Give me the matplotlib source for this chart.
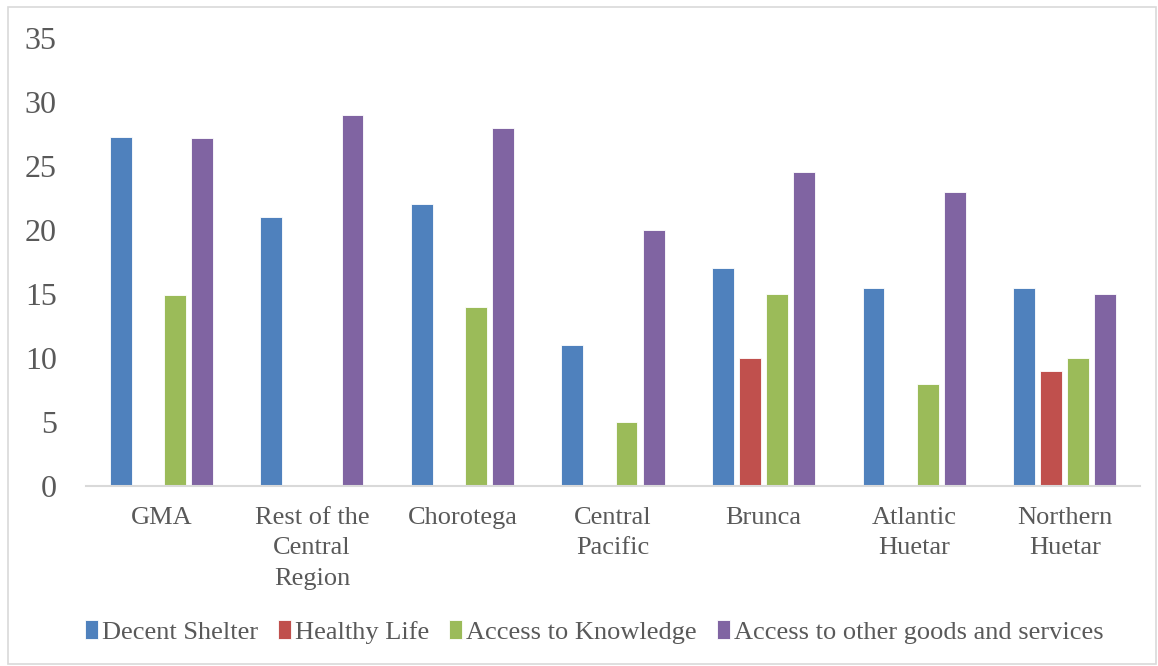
import matplotlib
matplotlib.use("Agg")
import matplotlib.pyplot as plt
from matplotlib.patches import Rectangle
import numpy as np

categories = ["GMA", "Rest of the\nCentral\nRegion", "Chorotega", "Central\nPacific",
              "Brunca", "Atlantic\nHuetar", "Northern\nHuetar"]
series_names = ["Decent Shelter", "Healthy Life", "Access to Knowledge",
                "Access to other goods and services"]
decent_shelter = [27.3, 21.0, 22.0, 11.0, 17.0, 15.5, 15.5]
healthy_life = [0, 0, 0, 0, 10.0, 0, 9.0]
access_knowledge = [14.9, 0, 14.0, 5.0, 15.0, 8.0, 10.0]
access_other = [27.2, 29.0, 28.0, 20.0, 24.5, 23.0, 15.0]
colors = ["#4F81BD", "#C0504D", "#9BBB59", "#8064A2"]
yticks = [0, 5, 10, 15, 20, 25, 30, 35]

plt.rcParams['font.family'] = ['Liberation Serif', 'DejaVu Serif']
W, H = 1158, 666
fig = plt.figure(figsize=(W / 100, H / 100), dpi=100)
fig.patches.append(Rectangle((8 / W, 2 / H), 1148 / W, 657 / H, transform=fig.transFigure,
                             fill=False, edgecolor="#D9D9D9", linewidth=1.2))
ax = fig.add_axes([86 / W, 1 - 486 / H, (1140 - 86) / W, (486 - 38) / H])

x = np.arange(len(categories))
data = [decent_shelter, healthy_life, access_knowledge, access_other]
slot = 0.18
for i, (vals, name, c) in enumerate(zip(data, series_names, colors)):
    ax.bar(x + (i - 1.5) * slot, vals, width=0.145, color=c, label=name,
           edgecolor="white", linewidth=0.6)

ax.set_xlim(-0.5, len(categories) - 0.5)
ax.set_ylim(0, 35)
ax.set_yticks(yticks)
ax.set_yticklabels([str(t) for t in yticks], fontsize=23, color="#595959")
ax.set_xticks(x)
ax.set_xticklabels(categories, fontsize=19, color="#595959", linespacing=1.5)
ax.tick_params(axis='both', length=0)
ax.tick_params(axis='y', pad=21)
ax.tick_params(axis='x', pad=15)
for s in ["top", "right", "left"]:
    ax.spines[s].set_visible(False)
ax.spines["bottom"].set_color("#D9D9D9")
ax.spines["bottom"].set_linewidth(1.5)

leg = fig.legend(loc="center", bbox_to_anchor=(0.513, 1 - 632 / H), ncol=4, frameon=False,
                 fontsize=19, handlelength=0.5, handleheight=0.7, handletextpad=0.15,
                 columnspacing=0.75)
for t in leg.get_texts():
    t.set_color("#595959")

fig.savefig("out.png", dpi=100)
